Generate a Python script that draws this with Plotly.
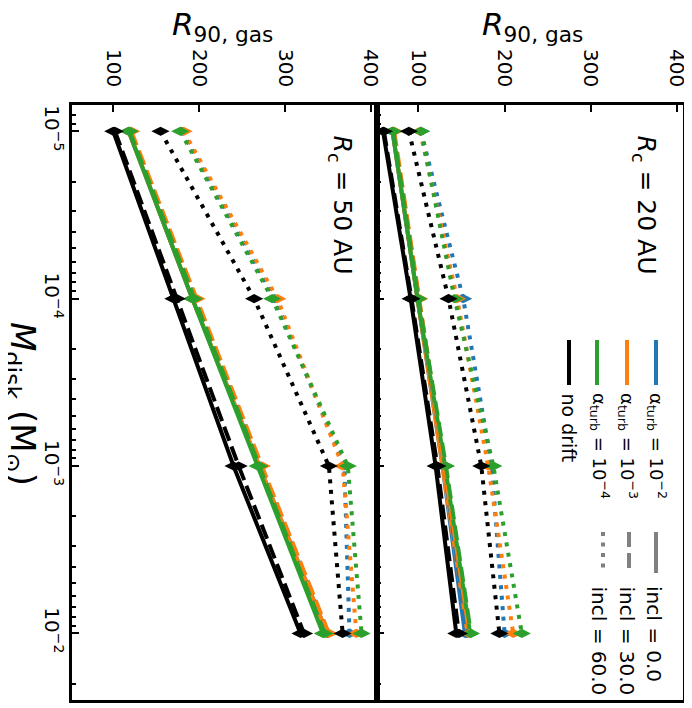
import plotly.graph_objects as go

# ---------------- data ----------------
m_disk = [1e-5, 1e-4, 1e-3, 1e-2]

# R_c = 20 AU panel (right)
r20_solid_blue   = [70, 99, 128, 154]
r20_solid_orange = [70, 99, 129, 157]
r20_solid_green  = [70, 99, 131, 160]
r20_solid_black  = [59, 91, 120, 144]
r20_dash_blue    = [71, 100, 130, 156]
r20_dash_orange  = [72, 101, 131, 159]
r20_dash_green   = [71, 100, 132, 161]
r20_dash_black   = [60, 92, 122, 147]
r20_dot_blue     = [103, 152, 185, 200]
r20_dot_orange   = [102, 145, 181, 210]
r20_dot_green    = [103, 142, 187, 220]
r20_dot_black    = [89, 135, 173, 194]

# R_c = 50 AU panel (left)
r50_solid_blue   = [118, 192, 270, 349]
r50_solid_orange = [118, 192, 270, 349]
r50_solid_green  = [118, 192, 268, 344]
r50_solid_black  = [100, 170, 240, 318]
r50_dash_blue    = [120, 195, 272, 350]
r50_dash_orange  = [121, 197, 273, 351]
r50_dash_green   = [119, 194, 270, 346]
r50_dash_black   = [102, 174, 246, 322]
r50_dot_blue     = [180, 288, 369, 375]
r50_dot_orange   = [182, 291, 367, 383]
r50_dot_green    = [178, 285, 373, 389]
r50_dot_black    = [155, 264, 351, 367]

m_ticks = [1e-5, 1e-4, 1e-3, 1e-2]
m_ticktext = ["10<sup>−5</sup>", "10<sup>−4</sup>", "10<sup>−3</sup>", "10<sup>−2</sup>"]
r_ticks = [100, 200, 300, 400]
r_ticktext = ["100", "200", "300", "400"]

alpha_labels = ["α<sub>turb</sub> = 10<sup>−2</sup>", "α<sub>turb</sub> = 10<sup>−3</sup>",
                "α<sub>turb</sub> = 10<sup>−4</sup>", "no drift"]
incl_labels = ["incl = 0.0", "incl = 30.0", "incl = 60.0"]
panel_labels = ["<i>R</i><sub>c</sub> = 50 AU", "<i>R</i><sub>c</sub> = 20 AU"]

# ---------------- styling ----------------
BLUE, ORANGE, GREEN, BLACK = "#1f77b4", "#ff7f0e", "#2ca02c", "#000000"
FONT = "DejaVu Sans"
W, H = 692, 708
OFF = 8  # page body margin
# target plot frame in page pixels: x 72..683, y 105..700
ML, MT = 72 - OFF, 105 - OFF
MR, MB = W - (683 - OFF), H - (700 - OFF)
PW, PH = W - ML - MR, H - MT - MB
SPLIT = (377 - 72) / PW

DASHES = {"solid": "solid", "dash": "15px,6px", "dot": "4px,6.5px"}


def px(x):
    return (x - OFF - ML) / PW


def py(y):
    return (H - MB - (y - OFF)) / PH


fig = go.Figure()

panels = [
    ("x", "y", {
        "solid": [(r50_solid_blue, BLUE), (r50_solid_orange, ORANGE), (r50_solid_green, GREEN), (r50_solid_black, BLACK)],
        "dash": [(r50_dash_blue, BLUE), (r50_dash_orange, ORANGE), (r50_dash_green, GREEN), (r50_dash_black, BLACK)],
        "dot": [(r50_dot_blue, BLUE), (r50_dot_orange, ORANGE), (r50_dot_green, GREEN), (r50_dot_black, BLACK)],
    }),
    ("x2", "y2", {
        "solid": [(r20_solid_blue, BLUE), (r20_solid_orange, ORANGE), (r20_solid_green, GREEN), (r20_solid_black, BLACK)],
        "dash": [(r20_dash_blue, BLUE), (r20_dash_orange, ORANGE), (r20_dash_green, GREEN), (r20_dash_black, BLACK)],
        "dot": [(r20_dot_blue, BLUE), (r20_dot_orange, ORANGE), (r20_dot_green, GREEN), (r20_dot_black, BLACK)],
    }),
]

for xa, ya, groups in panels:
    for style in ["solid", "dash", "dot"]:
        for vals, col in groups[style]:
            fig.add_trace(go.Scatter(
                x=vals, y=m_disk, xaxis=xa, yaxis=ya, mode="lines+markers",
                line=dict(color=col, width=4, dash=DASHES[style]),
                marker=dict(symbol="diamond-wide", size=13, color=col),
                showlegend=False, cliponaxis=False,
            ))

minor_vals = [k * 10 ** e for e in range(-6, -1) for k in range(2, 10)]

xcommon = dict(range=[52, 407], side="top", ticks="inside", ticklen=7, tickwidth=2,
               tickcolor="black", tickvals=r_ticks, ticktext=r_ticktext, tickangle=90,
               showline=True, linecolor="black", linewidth=2.5, mirror=True,
               showgrid=False, zeroline=False, automargin=False, ticklabelstandoff=8,
               tickfont=dict(family=FONT, size=20, color="black"))
ycommon = dict(type="log", range=[-1.602, -5.157], ticks="inside", ticklen=7, tickwidth=2,
               tickcolor="black", tickvals=m_ticks, ticktext=m_ticktext, tickangle=90,
               minor=dict(ticks="inside", ticklen=4, tickwidth=1.5, tickcolor="black",
                          tickvals=minor_vals, showgrid=False),
               showline=True, linecolor="black", linewidth=2.5, mirror=True,
               showgrid=False, zeroline=False, automargin=False,
               tickfont=dict(family=FONT, size=20, color="black"))

fig.update_layout(
    width=W, height=H, margin=dict(l=ML, r=MR, t=MT, b=MB, autoexpand=False),
    paper_bgcolor="white", plot_bgcolor="white", showlegend=False,
    xaxis=dict(domain=[0, SPLIT], anchor="y", **xcommon),
    xaxis2=dict(domain=[SPLIT, 1], anchor="y2", **xcommon),
    yaxis=dict(domain=[0, 1], anchor="x", **ycommon),
    yaxis2=dict(domain=[0, 1], anchor="x2", matches="y", showticklabels=False, **ycommon),
)

ann = []
# axis titles
for cx in [222, 532]:
    ann.append(dict(x=px(cx), y=py(26), xref="paper", yref="paper", showarrow=False,
                    text="<i>R</i><sub>90, gas</sub>", font=dict(family=FONT, size=31, color="black"),
                    xanchor="center", yanchor="middle"))
ann.append(dict(x=px(21), y=py(404), xref="paper", yref="paper", showarrow=False, textangle=90,
                text="<i>M</i><sub>disk</sub> (M<sub>⊙</sub>)", font=dict(family=FONT, size=34, color="black"),
                xanchor="center", yanchor="middle"))
# panel labels
for cx, txt in zip([341, 645], panel_labels):
    ann.append(dict(x=px(cx), y=py(133), xref="paper", yref="paper", showarrow=False, textangle=90,
                    text=txt, font=dict(family=FONT, size=25, color="black"),
                    xanchor="center", yanchor="top"))
# legend texts
for cx, txt in zip([657, 628, 600], alpha_labels[:3]):
    ann.append(dict(x=px(cx), y=py(391), xref="paper", yref="paper", showarrow=False, textangle=90,
                    text=txt, font=dict(family=FONT, size=18, color="black"),
                    xanchor="center", yanchor="top"))
ann.append(dict(x=px(569), y=py(391), xref="paper", yref="paper", showarrow=False, textangle=90,
                text=alpha_labels[3], font=dict(family=FONT, size=19, color="black"),
                xanchor="center", yanchor="top"))
for cx, txt in zip([654, 627, 599], incl_labels):
    ann.append(dict(x=px(cx), y=py(584), xref="paper", yref="paper", showarrow=False, textangle=90,
                    text=txt, font=dict(family=FONT, size=20, color="black"),
                    xanchor="center", yanchor="top"))

shapes = []
for cx, col in zip([656, 627, 597, 569], [BLUE, ORANGE, GREEN, BLACK]):
    shapes.append(dict(type="line", xref="paper", yref="paper", x0=px(cx), x1=px(cx),
                       y0=py(340), y1=py(385), line=dict(color=col, width=4)))
for cx, d in zip([656, 629, 603], ["solid", "15px,6px", "4px,6.5px"]):
    shapes.append(dict(type="line", xref="paper", yref="paper", x0=px(cx), x1=px(cx),
                       y0=py(532), y1=py(573), line=dict(color="#808080", width=4, dash=d)))

fig.update_layout(annotations=ann, shapes=shapes)
fig.write_html("out.html")
